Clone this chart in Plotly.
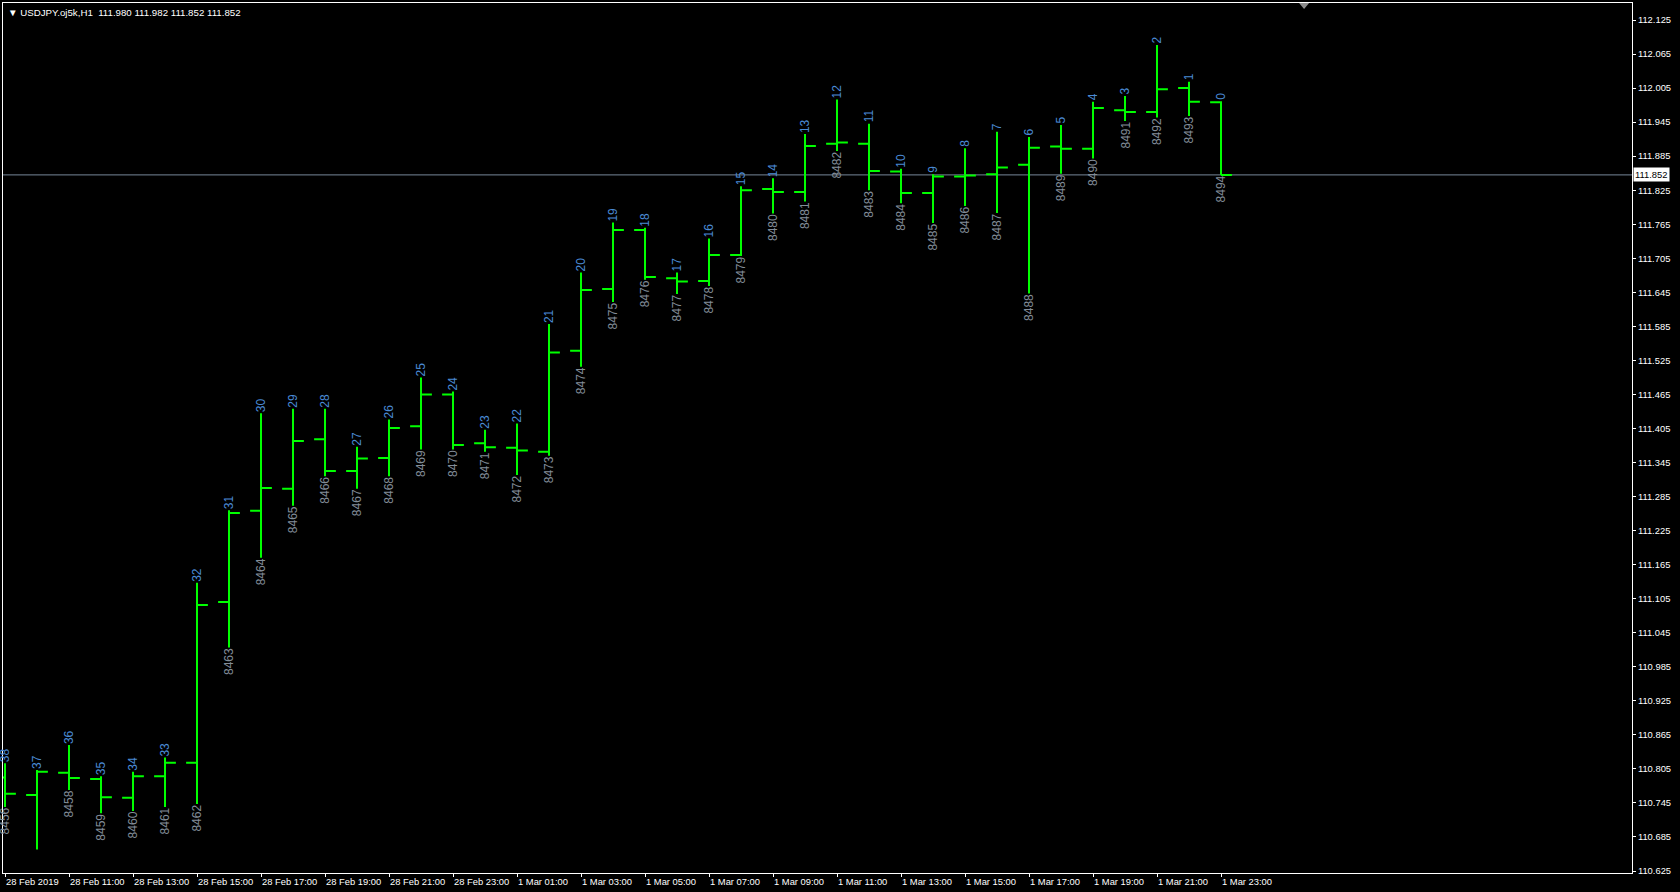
import plotly.graph_objects as go

# ---- data ----
times = [
    "2019-02-28 09:00", "2019-02-28 10:00", "2019-02-28 11:00", "2019-02-28 12:00",
    "2019-02-28 13:00", "2019-02-28 14:00", "2019-02-28 15:00", "2019-02-28 16:00",
    "2019-02-28 17:00", "2019-02-28 18:00", "2019-02-28 19:00", "2019-02-28 20:00",
    "2019-02-28 21:00", "2019-02-28 22:00", "2019-02-28 23:00", "2019-03-01 00:00",
    "2019-03-01 01:00", "2019-03-01 02:00", "2019-03-01 03:00", "2019-03-01 04:00",
    "2019-03-01 05:00", "2019-03-01 06:00", "2019-03-01 07:00", "2019-03-01 08:00",
    "2019-03-01 09:00", "2019-03-01 10:00", "2019-03-01 11:00", "2019-03-01 12:00",
    "2019-03-01 13:00", "2019-03-01 14:00", "2019-03-01 15:00", "2019-03-01 16:00",
    "2019-03-01 17:00", "2019-03-01 18:00", "2019-03-01 19:00", "2019-03-01 20:00",
    "2019-03-01 21:00", "2019-03-01 22:00", "2019-03-01 23:00",
]
bar_numbers = [8456, 8457, 8458, 8459, 8460, 8461, 8462, 8463, 8464, 8465,
               8466, 8467, 8468, 8469, 8470, 8471, 8472, 8473, 8474, 8475,
               8476, 8477, 8478, 8479, 8480, 8481, 8482, 8483, 8484, 8485,
               8486, 8487, 8488, 8489, 8490, 8491, 8492, 8493, 8494]
bars_back = [38, 37, 36, 35, 34, 33, 32, 31, 30, 29,
             28, 27, 26, 25, 24, 23, 22, 21, 20, 19,
             18, 17, 16, 15, 14, 13, 12, 11, 10, 9,
             8, 7, 6, 5, 4, 3, 2, 1, 0]
opens = [110.790, 110.759, 110.798, 110.787, 110.754, 110.792, 110.816, 111.099, 111.260, 111.299,
         111.386, 111.330, 111.353, 111.409, 111.465, 111.379, 111.371, 111.364, 111.542, 111.651,
         111.755, 111.670, 111.665, 111.711, 111.827, 111.822, 111.907, 111.907, 111.858, 111.820,
         111.849, 111.853, 111.870, 111.902, 111.898, 111.966, 111.963, 112.005, 111.980]
highs = [110.815, 110.803, 110.847, 110.792, 110.800, 110.825, 111.133, 111.261, 111.432, 111.440,
         111.440, 111.373, 111.421, 111.495, 111.470, 111.403, 111.414, 111.589, 111.680, 111.768,
         111.759, 111.680, 111.740, 111.832, 111.846, 111.924, 111.985, 111.942, 111.863, 111.853,
         111.899, 111.928, 111.919, 111.940, 111.981, 111.991, 112.081, 112.016, 111.982]
lows = [110.738, 110.663, 110.768, 110.727, 110.731, 110.738, 110.743, 111.019, 111.177, 111.269,
        111.321, 111.299, 111.321, 111.368, 111.368, 111.364, 111.323, 111.357, 111.514, 111.628,
        111.667, 111.642, 111.656, 111.709, 111.784, 111.805, 111.894, 111.825, 111.802, 111.767,
        111.797, 111.785, 111.643, 111.854, 111.881, 111.947, 111.953, 111.956, 111.852]
closes = [110.761, 110.800, 110.789, 110.755, 110.792, 110.816, 111.094, 111.256, 111.300, 111.383,
          111.330, 111.352, 111.406, 111.465, 111.376, 111.372, 111.366, 111.539, 111.649, 111.755,
          111.672, 111.664, 111.711, 111.825, 111.822, 111.903, 111.909, 111.859, 111.820, 111.849,
          111.851, 111.865, 111.900, 111.898, 111.970, 111.963, 112.003, 111.981, 111.852]

symbol = "USDJPY.oj5k,H1"

x_tick_vals = ["2019-02-28 09:00", "2019-02-28 11:00", "2019-02-28 13:00", "2019-02-28 15:00",
               "2019-02-28 17:00", "2019-02-28 19:00", "2019-02-28 21:00", "2019-02-28 23:00",
               "2019-03-01 01:00", "2019-03-01 03:00", "2019-03-01 05:00", "2019-03-01 07:00",
               "2019-03-01 09:00", "2019-03-01 11:00", "2019-03-01 13:00", "2019-03-01 15:00",
               "2019-03-01 17:00", "2019-03-01 19:00", "2019-03-01 21:00", "2019-03-01 23:00"]
x_tick_text = ["28 Feb 2019", "28 Feb 11:00", "28 Feb 13:00", "28 Feb 15:00",
               "28 Feb 17:00", "28 Feb 19:00", "28 Feb 21:00", "28 Feb 23:00",
               "1 Mar 01:00", "1 Mar 03:00", "1 Mar 05:00", "1 Mar 07:00",
               "1 Mar 09:00", "1 Mar 11:00", "1 Mar 13:00", "1 Mar 15:00",
               "1 Mar 17:00", "1 Mar 19:00", "1 Mar 21:00", "1 Mar 23:00"]
y_tick_vals = [110.625, 110.685, 110.745, 110.805, 110.865, 110.925, 110.985, 111.045,
               111.105, 111.165, 111.225, 111.285, 111.345, 111.405, 111.465, 111.525,
               111.585, 111.645, 111.705, 111.765, 111.825, 111.885, 111.945, 112.005,
               112.065, 112.125]

x_range = ["2019-02-28 08:56:15", "2019-03-02 11:50:37"]
y_range = [110.6215, 112.155]

# ---- styles ----
BAR_GREEN = "#00ff00"
TOP_LABEL = "#4a8ad4"
BOTTOM_LABEL = "#828c98"
AXIS_FONT = dict(family="Liberation Sans, Arial, sans-serif", size=9.4, color="#ffffff")
HEADER_FONT = dict(family="Liberation Sans, Arial, sans-serif", size=9.7, color="#ffffff")
LABEL_FONT_FAMILY = "Liberation Sans, Arial, sans-serif"
PLOT_HEIGHT_PX = 870
LABEL_LEN_PX = 28  # length of a rotated 4-digit bar label

fig = go.Figure()
fig.add_trace(go.Ohlc(
    x=times, open=opens, high=highs, low=lows, close=closes,
    increasing=dict(line=dict(color=BAR_GREEN, width=2)),
    decreasing=dict(line=dict(color=BAR_GREEN, width=2)),
    tickwidth=0.34,
    hoverinfo="skip",
    showlegend=False,
))

# price span covered by a bottom label; labels that would fall off the chart are hidden
label_span = LABEL_LEN_PX * (y_range[1] - y_range[0]) / PLOT_HEIGHT_PX

annotations = []
for t, h, l, nb, nf in zip(times, highs, lows, bars_back, bar_numbers):
    annotations.append(dict(
        x=t, y=h, xref="x", yref="y", text=str(nb), showarrow=False,
        textangle=-90, xanchor="center", yanchor="bottom",
        font=dict(family=LABEL_FONT_FAMILY, size=12, color=TOP_LABEL),
        borderpad=0,
    ))
    if l - label_span >= y_range[0]:
        annotations.append(dict(
            x=t, y=l, xref="x", yref="y", text=str(nf), showarrow=False,
            textangle=-90, xanchor="center", yanchor="top",
            font=dict(family=LABEL_FONT_FAMILY, size=12, color=BOTTOM_LABEL),
            borderpad=0,
        ))

last_close = closes[-1]
header = ("\u25bc " + symbol + "\u00a0\u00a0" +
          " ".join(f"{v:.3f}" for v in (opens[-1], highs[-1], lows[-1], closes[-1])))
annotations.append(dict(
    x=0, y=1, xref="paper", yref="paper", xanchor="left", yanchor="top",
    xshift=3, yshift=-2, text=header, showarrow=False,
    font=HEADER_FONT,
))
# current price label on the price axis
annotations.append(dict(
    x=1, y=last_close, xref="paper", yref="y", xanchor="left", yanchor="middle",
    xshift=1, text=f"{last_close:.3f}", showarrow=False,
    bgcolor="#ffffff", borderpad=1,
    font=dict(family="Liberation Sans, Arial, sans-serif", size=9.4, color="#000000"),
))

shapes = [
    dict(type="line", xref="paper", x0=0, x1=1, yref="y", y0=last_close, y1=last_close,
         line=dict(color="#778899", width=1), layer="below"),
    dict(type="path", xref="paper", yref="paper", xsizemode="pixel", ysizemode="pixel",
         xanchor=0.7987, yanchor=1, path="M-5,0 L5,0 L0,-6 Z",
         fillcolor="#8c8c8c", line=dict(width=0)),
]

fig.update_layout(
    width=1680, height=892,
    paper_bgcolor="#000000", plot_bgcolor="#000000",
    margin=dict(l=3, r=48, t=3, b=19, autoexpand=False),
    showlegend=False,
    annotations=annotations,
    shapes=shapes,
    xaxis=dict(
        type="date", range=x_range,
        rangeslider=dict(visible=False),
        tickmode="array", tickvals=x_tick_vals, ticktext=x_tick_text,
        tickangle=0, automargin=False,
        ticks="outside", ticklen=3, tickcolor="#ffffff", tickwidth=1,
        ticklabelposition="outside right",
        showgrid=False, zeroline=False,
        showline=True, linecolor="#ffffff", linewidth=1, mirror=True,
        tickfont=AXIS_FONT,
    ),
    yaxis=dict(
        side="right", range=y_range, automargin=False,
        tickmode="array", tickvals=y_tick_vals,
        ticktext=[f"{v:.3f}" for v in y_tick_vals],
        ticks="outside", ticklen=3, tickcolor="#ffffff", tickwidth=1,
        showgrid=False, zeroline=False,
        showline=True, linecolor="#ffffff", linewidth=1, mirror=True,
        tickfont=AXIS_FONT,
    ),
)

fig.write_html(
    "out.html",
    config={"displayModeBar": False},
    post_script="document.body.style.margin='0px';document.body.style.background='#000000';",
)
